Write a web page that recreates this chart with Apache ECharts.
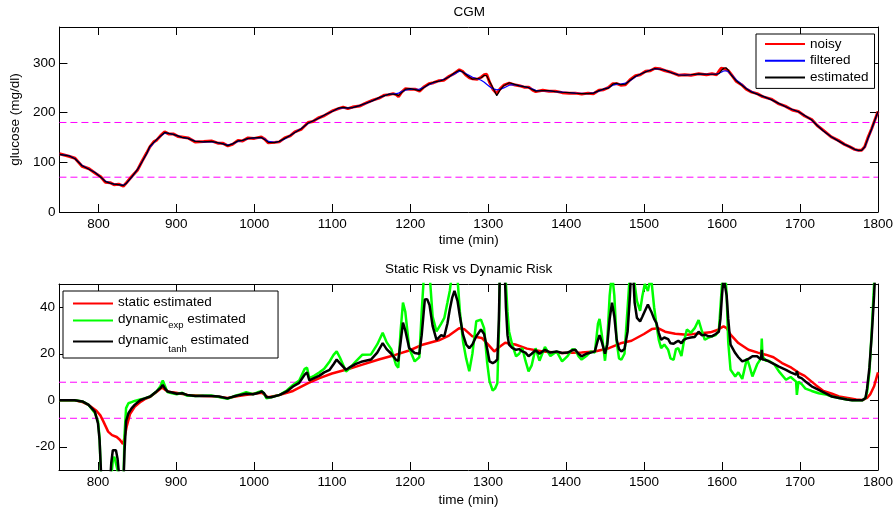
<!DOCTYPE html>
<html>
<head>
<meta charset="utf-8">
<title>CGM and risk</title>
<script src="https://cdn.jsdelivr.net/npm/echarts@6/dist/echarts.min.js"></script>
<style>
  html, body { margin: 0; padding: 0; background: #fff; }
  #chart { width: 896px; height: 510px; }
</style>
</head>
<body>
<div id="chart"></div>
<script>
// ---- CGM trace (mg/dl) ----
const cgmTime = [750,762,770,779,788,796,803,809,815,820,826,832,836,843,850,856,862,866,871,875,880,885,890,896,902,907,915,924,935,945,954,960,966,972,979,985,992,1000,1009,1013,1018,1026,1032,1039,1046,1052,1060,1069,1075,1082,1090,1101,1108,1114,1120,1126,1135,1143,1152,1160,1167,1173,1178,1182,1185,1189,1194,1200,1206,1212,1218,1224,1230,1237,1243,1250,1256,1263,1267,1271,1276,1280,1286,1291,1295,1298,1302,1306,1311,1315,1320,1327,1333,1340,1346,1352,1357,1361,1370,1378,1386,1395,1404,1412,1420,1428,1435,1442,1448,1454,1460,1465,1470,1476,1482,1489,1495,1502,1508,1514,1520,1527,1535,1544,1552,1560,1570,1580,1587,1593,1596,1599,1602,1605,1608,1612,1618,1625,1631,1638,1645,1652,1663,1672,1681,1690,1698,1706,1715,1722,1730,1740,1749,1757,1764,1770,1775,1779,1783,1787,1792,1796,1800];
const cgmEstimated = [116,113,107,93,86,79,70,61,58,56,55,53,58,71,85,101,118,132,140,146,153,160,158,156,153,150,148,142,141,142,139,137,133.5,137,143,144,148,149,150,146,140,139.5,142,148,154,160,167,179,183,188,195,203,209,210.5,209,210,214,218.7,224,230,234,237,237,236,234,240,247,248,246,244,251,257.5,261,263,266,272,279,285,282,277,271,267,268,270,275,274,262,250,234,245,254,260,257,253.5,252,250,246,243,244,244,242,240.8,240,238.8,238,238,239,244,247,249,257,259,256,257,265,273,277,281.7,285,288.5,287,285,280,275.5,275,276,277.7,277,277,277,278,284,289,290,285,275,264,255.5,248,241,237,233,226,219,212,206,201.5,194,185,174,163,151.5,143,136,131,126,124,124,131,148,168,185,202];
const cgmFiltered = [116,113.5,107,94,86,79.5,70,62,58,56,55,54,58,70,85,101,117,130,139,146,153,159,158,156,153,150,148,142.5,141,141.5,139,137,134.5,137,142,144,147.5,149,149.5,147,142,140,142,147,154,160,168,178,183,188,195,203,208,210,209.5,210,214,218.5,224,229.5,234,237,237.5,238,239,242,245,247,246.5,247,251,256,260,263.5,267,272,277,283,281.5,278.5,274.5,271,268,265,261,257,252,248,245.5,246.5,249.5,255,256,254,252,250,247,244.5,244,243.5,242,241,240,239,238.5,238,239.5,243,247,250,255,257,257,259,264,272,277,282,285.5,288,287.5,285,280,276,275.5,276,277,277,277,277.5,279,281,283.5,284,282,276,266,257,249,242,237,233,226,219,212,206,201.5,194,185,174.5,163,151.5,143,136,131,126,123.5,124,130,146,167,184,201];
const cgmNoisy = [117,112,108,92,87,78,71,60,59,55,56,52,59,72,84,102,119,131,141,145,154,161,157,157,152,151,149,141,142,143,138,138,133,136,144,143,149,148,151,147,139,140,141,149,153,161,166,180,182,189,194,204,208,211,208,211,213,219,225,229,235,236,238,236,232,241,248,247,247,243,252,258,260,264,265,273,278,286,283,276,270,268,267,271,276,277,260,247,238,247,255,259,256,254,251,251,245,242,245,243,243,240,239,239,237,239,238,245,246,250,258,258,255,256,266,274,276,283,284,289,288,284,281,275,276,275,278,276,278,276,283,289,288,287,284,276,263,256,247,241,238,232,227,218,213,205,202,193,186,174,164,151,144,136,131,126,124,124,131,149,168,185,202];

// ---- Risk traces ----
const staticTime = [750,770,780,788,798,803,807,813,818,824,828,832,834,837,841,847,855,860,867,875,882,886,892,900,915,935,950,966,980,1000,1010,1018,1030,1050,1070,1084,1100,1120,1139,1160,1182,1200,1216,1237,1250,1263,1270,1280,1292,1300,1308,1315,1322,1335,1350,1370,1395,1420,1437,1455,1470,1484,1500,1510,1518,1527,1540,1555,1570,1585,1594,1602,1606,1611,1621,1634,1646,1656,1666,1677,1689,1699,1706,1720,1730,1741,1750,1763,1772,1780,1786,1790,1795,1800];
const staticRisk = [0,0,-0.8,-2,-4.5,-6.5,-9.2,-13.5,-15,-15.8,-17,-18.8,-16,-11,-6,-2.8,-0.6,0.5,1.5,3.5,5.5,4.5,3.5,3.2,2.3,1.8,1.7,1,1.8,2.8,3.2,1.3,2,4,7.5,9.5,11.5,13.3,15.3,17.5,19.6,21.5,23.9,25.8,27.8,31,30.5,27.5,26.8,24,21,23,24.7,24,22.2,21,20.3,20.5,21,22.4,24.5,25.6,28.5,30.6,31,29.5,28.6,28.2,28.7,29.2,30.2,31.8,31,28.2,24.6,21.7,20.5,19.6,18.5,16,14,11.7,10.5,6.6,4,2.8,1.6,0.9,0.3,0.1,1,2.5,6,12];

const dynTime = [750,770,780,788,796,800,802,804,806,812,815,817,819,821,823,825,827,830,832,834,836,839,843,847,854,860,867,875,880,883,886,889,895,901,908,914,925,935,945,955,966,975,982,990,999,1006,1010,1013,1016,1022,1033,1042,1050,1058,1065,1068,1071,1077,1084,1090,1097,1102,1106,1110,1118,1122,1130,1139,1150,1158,1165,1170,1176,1182,1185,1188,1191,1194,1199,1206,1212,1215,1219,1222,1225,1229,1234,1240,1244,1248,1251,1254,1257,1261,1264,1268,1272,1276,1280,1285,1291,1295,1299,1302,1306,1309,1312,1314,1316,1318,1321,1323,1325,1327,1331,1336,1340,1344,1348,1352,1356,1361,1366,1373,1380,1388,1395,1402,1408,1412,1416,1420,1426,1432,1437,1441,1443,1446,1450,1453,1456,1459,1462,1465,1468,1471,1475,1479,1482,1484,1486,1488,1491,1495,1498,1501,1505,1508,1510,1513,1516,1519,1522,1526,1531,1534,1538,1541,1544,1548,1551,1555,1560,1565,1570,1574,1578,1583,1587,1592,1596,1598,1600,1602,1604,1606,1608,1611,1617,1621,1626,1632,1635,1639,1645,1650,1651,1652,1656,1660,1667,1673,1682,1688,1695,1696,1698,1702,1707,1715,1724,1733,1741,1750,1760,1767,1780,1784,1786,1789,1792,1795,1797,1800];
const dynTanh = [0,0,-0.5,-2,-4.9,-10,-17,-32,-45,-48,-38,-27,-21.5,-20.7,-21.5,-25,-32,-45,-42,-22,-9,-5.6,-3.5,-2,0,0.8,1.6,3.8,5.2,6.6,5,3.8,3.3,2.8,3,2.3,1.8,1.9,1.8,1.6,0.8,1.7,2.3,2.8,2.6,3.2,3.8,3,1.3,1.3,2.3,3.8,5.9,7.5,11,12,8.5,9.5,10.6,12,13.1,15.5,17.5,16,13.1,14,15.5,16.7,17.5,20.5,24.6,22,20,17.4,17,25,33.4,30,22.4,20.3,20,28,43.3,43.5,41,32,26,28,27.5,33,39,44,47,42.6,36,28.2,24,22.4,24,27.5,30.4,28.5,22,16.7,16,16.5,17.6,35,70,80,60,40,28,23.9,22.5,21.7,22,21,20.5,18.9,20,21.5,20,21.7,20.5,21,20.3,20.5,21.5,21.7,20,18.9,20,20.5,21,26,28,25,20,24,35,42,36,26,22,21,22,29.6,45,60,55,42,35.4,33.9,36,38.3,41.2,39,37.6,35,33.2,29,26,27,26.3,24.5,24.3,25,25.6,24.5,26,26.6,27,27.2,29.5,28,28.2,27.5,27.5,28.5,29.5,35,45,53,53,45,35,23.9,20.3,18.5,16.7,17.5,18,18.9,18.9,17.5,21.7,17.5,17.4,16.7,15.5,14.5,13.1,12,11,12.5,10,9.5,8.1,6,4.5,3,1.6,1,0.3,0,0,1,5,14,28,45,60,80];
const dynExp = [0,0,-0.5,-2,-5.5,-9,-16,-35,-50,-55,-45,-33,-26,-24.3,-25,-30,-40,-50,-45,-15,-3.4,-1.3,-0.8,-0.3,0.3,0.8,1.6,3.8,6,8.5,6,3.5,3,2.6,3.2,2,1.8,1.9,2,1.4,0.6,1.8,2.5,3.5,2.6,3.6,4,2.8,0.8,1.3,2.3,4.2,6.6,8.5,13.5,14,9.5,10.5,12,13.5,16.7,19.5,21,18.5,12.4,13.5,16.5,19.6,19.7,24,29,25,22,15.3,14,30,42,38,22.4,16.7,18.5,38,60,62,55,36,29.6,33,35.4,42,47,55,58,52,38,25.3,18,12.5,20,34,34.7,31,16,8.1,4.2,5,7.3,30,70,85,65,50,38,29.6,24,18.9,20,22.5,17,12.4,15,22.4,17,22.9,19,21,16.7,19,22,21.7,19,17.5,19,21,20.5,33,35,28,17,26,45,55,45,25,18,17.4,20,39.7,55,65,62,50,42.6,38.5,45,50,47,52,50,40,32.5,26,22.4,24,21.7,18,17.4,22,22.4,19,25,30.4,29,31,34.5,30,26,27,27.5,28,30,40,50,55,56,45,25,13.1,10.2,12,9.2,18,15,10.2,15.4,18,26.5,19,17,17,15.5,12.4,8.8,10,8,2.3,8,7,5,4,3,2.5,1.6,1,0.3,0,0,1,3.5,12,30,50,65,85];

// ---- Reference limits ----
const glucoseLimits = [70, 180];
const riskLimits = [-7.75, 7.75];
const timeRange = [750, 1800];

const FONT = 'Liberation Sans, Arial, Helvetica, sans-serif';
const text = { color: '#000', fontFamily: FONT, fontSize: 13.5 };

const zip = (xs, ys) => xs.map((x, i) => [x, ys[i]]);

function xPair(grid, nameGap) {
  const base = {
    type: 'value', gridIndex: grid, min: timeRange[0], max: timeRange[1],
    splitNumber: 10, minInterval: 100, maxInterval: 100,
    splitLine: { show: false },
    axisLine: { show: true, onZero: false, lineStyle: { color: '#000', width: 1 } },
    axisTick: { show: true, inside: true, length: 8, lineStyle: { color: '#000', width: 1 } }
  };
  return [
    Object.assign({}, base, {
      position: 'bottom', name: 'time (min)', nameLocation: 'middle', nameGap: nameGap,
      nameTextStyle: text,
      axisLabel: Object.assign({ margin: 5, formatter: v => (v % 100 === 0 ? String(v) : '') }, text)
    }),
    Object.assign({}, base, { position: 'top', axisLabel: { show: false } })
  ];
}

function yPair(grid, min, max, step, extra) {
  const base = {
    type: 'value', gridIndex: grid, min: min, max: max,
    minInterval: step, maxInterval: step,
    splitLine: { show: false },
    axisLine: { show: true, onZero: false, lineStyle: { color: '#000', width: 1 } },
    axisTick: { show: true, inside: true, length: 8, lineStyle: { color: '#000', width: 1 } }
  };
  return [
    Object.assign({}, base, {
      position: 'left',
      axisLabel: Object.assign({ margin: 4, formatter: v => (v % step === 0 ? String(v) : '') }, text)
    }, extra || {}),
    Object.assign({}, base, { position: 'right', axisLabel: { show: false } })
  ];
}

function curve(name, xi, yi, data, color, width, z) {
  return {
    name: name, type: 'line', xAxisIndex: xi, yAxisIndex: yi, data: data,
    symbol: 'none', showSymbol: false, clip: true, z: z,
    lineStyle: { color: color, width: width }, itemStyle: { color: color },
    emphasis: { disabled: true }
  };
}

function limit(xi, yi, value) {
  return {
    type: 'line', xAxisIndex: xi, yAxisIndex: yi, z: 1,
    data: [[timeRange[0], value], [timeRange[1], value]],
    symbol: 'none', silent: true,
    lineStyle: { color: '#ff00ff', width: 1, type: [7, 4] },
    emphasis: { disabled: true }
  };
}

const riskLabels = {
  static: '{m|static estimated}',
  dynamicExp: '{m|dynamic}{e|exp}{m| estimated}',
  dynamicTanh: '{m|dynamic}{t|tanh}{m| estimated}'
};

const option = {
  animation: false,
  backgroundColor: '#fff',
  title: [
    { text: 'CGM', left: 453.5, top: 5, padding: 0, textStyle: Object.assign({ fontWeight: 'normal', lineHeight: 14 }, text) },
    { text: 'Static Risk vs Dynamic Risk', left: 385, top: 262.5, padding: 0, textStyle: Object.assign({ fontWeight: 'normal', lineHeight: 14 }, text) }
  ],
  grid: [
    { left: 59, top: 27, width: 821, height: 185 },
    { left: 59, top: 284, width: 821, height: 186 }
  ],
  xAxis: xPair(0, 21).concat(xPair(1, 23)),
  yAxis: yPair(0, 0, 372, 100, {
    name: 'glucose (mg/dl)', nameLocation: 'middle', nameGap: 32, nameTextStyle: text
  }).concat(yPair(1, -30, 50, 20)),
  legend: [
    {
      data: ['noisy', 'filtered', 'estimated'], orient: 'vertical',
      left: 756, top: 34, itemWidth: 40, itemHeight: 10, itemGap: 0.7,
      padding: [2, 6, 3, 8], borderColor: '#000', borderWidth: 1, backgroundColor: '#fff',
      selectedMode: false,
      itemStyle: { opacity: 0 },
      textStyle: Object.assign({ lineHeight: 16 }, text)
    },
    {
      data: ['static', 'dynamicExp', 'dynamicTanh'], orient: 'vertical',
      left: 63, top: 291, itemWidth: 40, itemHeight: 10, itemGap: 3,
      padding: [4.5, 29, 3.5, 9], borderColor: '#000', borderWidth: 1, backgroundColor: '#fff',
      selectedMode: false,
      itemStyle: { opacity: 0 },
      formatter: name => riskLabels[name],
      textStyle: Object.assign({
        rich: {
          m: { fontFamily: FONT, fontSize: 13.5, color: '#000', lineHeight: 16, verticalAlign: 'top' },
          e: { fontFamily: FONT, fontSize: 9.5, color: '#000', lineHeight: 12, padding: [8, 0, 0, 0], verticalAlign: 'top' },
          t: { fontFamily: FONT, fontSize: 9.5, color: '#000', lineHeight: 12, padding: [11, 0, 0, 0], verticalAlign: 'top' }
        }
      }, text)
    }
  ],
  series: [
    limit(0, 0, glucoseLimits[0]),
    limit(0, 0, glucoseLimits[1]),
    curve('noisy', 0, 0, zip(cgmTime, cgmNoisy), '#ff0000', 3, 2),
    curve('filtered', 0, 0, zip(cgmTime, cgmFiltered), '#0000ff', 1.2, 3),
    curve('estimated', 0, 0, zip(cgmTime, cgmEstimated), '#000000', 1.2, 4),
    limit(2, 2, riskLimits[0]),
    limit(2, 2, riskLimits[1]),
    curve('static', 2, 2, zip(staticTime, staticRisk), '#ff0000', 2.5, 2),
    curve('dynamicExp', 2, 2, zip(dynTime, dynExp), '#00ff00', 2.5, 3),
    curve('dynamicTanh', 2, 2, zip(dynTime, dynTanh), '#000000', 2.5, 4)
  ]
};

const chart = echarts.init(document.getElementById('chart'), null, { renderer: 'canvas' });
chart.setOption(option);
</script>
</body>
</html>
